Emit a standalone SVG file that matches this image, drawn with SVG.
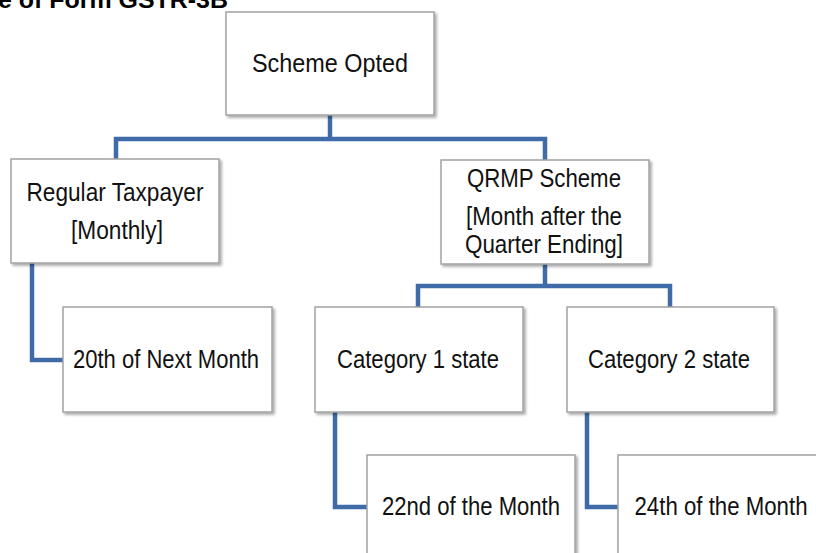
<svg xmlns="http://www.w3.org/2000/svg" width="816" height="553" viewBox="0 0 816 553">
<defs>
<filter id="sh" x="-10%" y="-10%" width="125%" height="125%">
<feGaussianBlur in="SourceAlpha" stdDeviation="1.5"/>
<feOffset dx="1.5" dy="2" result="b"/>
<feComponentTransfer><feFuncA type="linear" slope="0.35"/></feComponentTransfer>
<feMerge><feMergeNode/><feMergeNode in="SourceGraphic"/></feMerge>
</filter>
</defs>
<style>
.box{fill:#ffffff;stroke:#a3a3a3;stroke-width:1.5;filter:url(#sh)}
.t{font-family:"Liberation Sans",Arial,sans-serif;font-size:26px;fill:#111111;text-anchor:middle}
.c{fill:none;stroke:#3f6ca8;stroke-width:4.5;stroke-linejoin:miter}
.title{font-family:"Liberation Sans",Arial,sans-serif;font-size:23px;font-weight:bold;fill:#000000}
</style>
<rect width="816" height="553" fill="#ffffff"/>
<text class="title" x="-2" y="8" textLength="230" lengthAdjust="spacingAndGlyphs">e of Form GSTR-3B</text>
<g id="connectors">
<path class="c" d="M330 115 V139"/>
<path class="c" d="M116 159 V139 H545 V160"/>
<path class="c" d="M32 263 V360 H63"/>
<path class="c" d="M545 264 V286"/>
<path class="c" d="M418 307 V286 H670 V307"/>
<path class="c" d="M335 412 V507 H367"/>
<path class="c" d="M587 412 V507 H618"/>
</g>
<g id="scheme-opted">
<rect class="box" x="226" y="12" width="208" height="103"/>
<text class="t" x="330" y="72" textLength="156" lengthAdjust="spacingAndGlyphs">Scheme Opted</text>
</g>
<g id="regular-taxpayer">
<rect class="box" x="11" y="159" width="208" height="104"/>
<text class="t" x="115" y="201" textLength="177" lengthAdjust="spacingAndGlyphs">Regular Taxpayer</text>
<text class="t" x="117" y="239" textLength="92" lengthAdjust="spacingAndGlyphs">[Monthly]</text>
</g>
<g id="qrmp-scheme">
<rect class="box" x="441" y="160" width="208" height="104"/>
<text class="t" x="544" y="187" textLength="154" lengthAdjust="spacingAndGlyphs">QRMP Scheme</text>
<text class="t" x="544" y="225" textLength="156" lengthAdjust="spacingAndGlyphs">[Month after the</text>
<text class="t" x="544" y="253" textLength="158" lengthAdjust="spacingAndGlyphs">Quarter Ending]</text>
</g>
<g id="twentieth">
<rect class="box" x="63" y="307" width="209" height="105"/>
<text class="t" x="166" y="368" textLength="186" lengthAdjust="spacingAndGlyphs">20th of Next Month</text>
</g>
<g id="category-1">
<rect class="box" x="315" y="307" width="208" height="105"/>
<text class="t" x="418" y="368" textLength="162" lengthAdjust="spacingAndGlyphs">Category 1 state</text>
</g>
<g id="category-2">
<rect class="box" x="567" y="307" width="207" height="105"/>
<text class="t" x="669" y="368" textLength="162" lengthAdjust="spacingAndGlyphs">Category 2 state</text>
</g>
<g id="twenty-second">
<rect class="box" x="367" y="455" width="208" height="110"/>
<text class="t" x="471" y="515" textLength="178" lengthAdjust="spacingAndGlyphs">22nd of the Month</text>
</g>
<g id="twenty-fourth">
<rect class="box" x="618" y="455" width="208" height="110"/>
<text class="t" x="721" y="515" textLength="173" lengthAdjust="spacingAndGlyphs">24th of the Month</text>
</g>
</svg>
